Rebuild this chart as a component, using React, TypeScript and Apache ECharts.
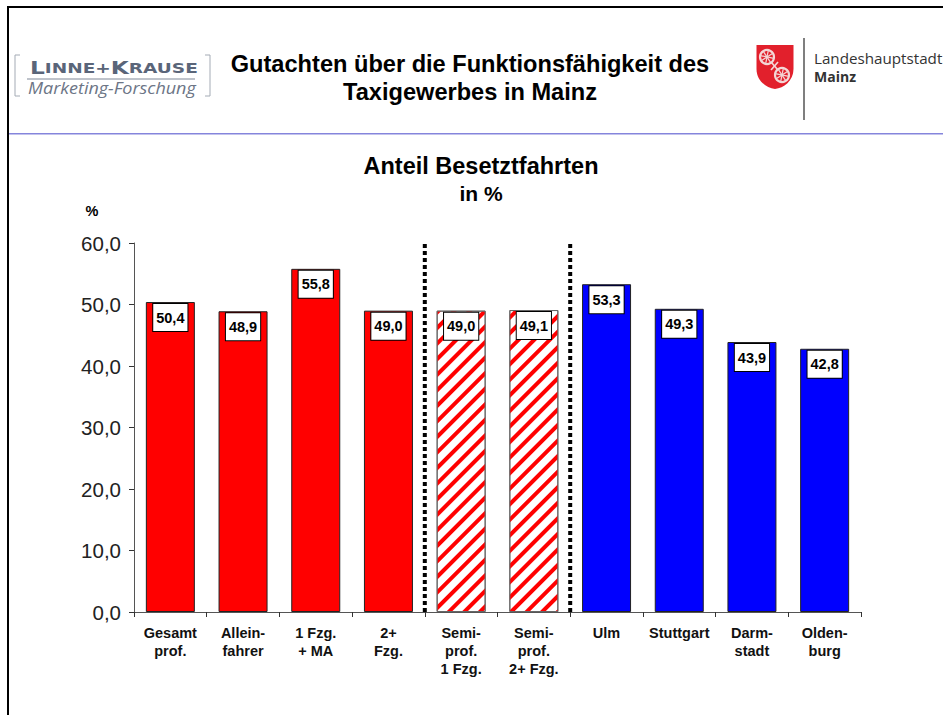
import React, { useEffect, useRef } from "react";
import * as echarts from "echarts";

const categories = ["Gesamt\nprof.", "Allein-\nfahrer", "1 Fzg.\n+ MA", "2+\nFzg.", "Semi-\nprof.\n1 Fzg.", "Semi-\nprof.\n2+ Fzg.", "Ulm", "Stuttgart", "Darm-\nstadt", "Olden-\nburg"];
const values = [50.4, 48.9, 55.8, 49.0, 49.0, 49.1, 53.3, 49.3, 43.9, 42.8];
const groups = ["solid", "solid", "solid", "solid", "hatch", "hatch", "blue", "blue", "blue", "blue"];
const separators = [4, 6];
const yMin = 0;
const yMax = 60;

const FONT = "'Liberation Sans', Arial, sans-serif";
const fmt = (v: number) => v.toFixed(1).replace(".", ",");

const shieldPath = "M0 0 L37 0 L37 24 C37 36 27 43 18.5 44 C10 43 0 36 0 24 Z";
echarts.graphic.registerShape("mainzShield", echarts.graphic.extendPath(shieldPath, {}) as any);

function itemStyleFor(group: string) {
  if (group === "hatch") {
    return {
      color: "#ffffff",
      borderColor: "#666666",
      borderWidth: 1,
      decal: {
        symbol: "rect",
        color: "#ff0000",
        backgroundColor: "#ffffff",
        dashArrayX: [1, 0],
        dashArrayY: [4, 7],
        rotation: -Math.PI / 4,
      },
    };
  }
  return { color: group === "blue" ? "#0000ff" : "#ff0000", borderColor: "#222222", borderWidth: 1 };
}

const WHEEL = "#f3d6d6";
function wheel(cx: number, cy: number, r: number) {
  const spokes = [0, 1, 2, 3].map((i) => {
    const a = (i * Math.PI) / 4 + 0.2;
    return {
      type: "line",
      shape: { x1: cx - r * Math.cos(a), y1: cy - r * Math.sin(a), x2: cx + r * Math.cos(a), y2: cy + r * Math.sin(a) },
      style: { stroke: WHEEL, lineWidth: 1.2 },
    };
  });
  return [
    { type: "circle", shape: { cx, cy, r }, style: { fill: "none", stroke: WHEEL, lineWidth: 2.2 } },
    ...spokes,
  ];
}

function buildGraphics() {
  return [
    { type: "line", shape: { x1: 7, y1: 7, x2: 943, y2: 7 }, style: { stroke: "#000", lineWidth: 2 } },
    { type: "line", shape: { x1: 8, y1: 6, x2: 8, y2: 715 }, style: { stroke: "#000", lineWidth: 2 } },
    { type: "rect", shape: { x: 9, y: 133, width: 934, height: 1.5 }, style: { fill: "#8585dc" } },
    { type: "polyline", shape: { points: [[20, 55], [15, 55], [15, 96], [20, 96]] }, style: { fill: "none", stroke: "#a4abb5", lineWidth: 1 } },
    { type: "polyline", shape: { points: [[205, 55], [210, 55], [210, 96], [205, 96]] }, style: { fill: "none", stroke: "#a4abb5", lineWidth: 1 } },
    {
      type: "text", x: 30, y: 68, scaleX: 1.37,
      style: {
        text: "{a|L}{b|INNE+}{a|K}{b|RAUSE}",
        verticalAlign: "middle",
        rich: {
          a: { font: "bold 17px 'DejaVu Sans'", fill: "#5a6579" },
          b: { font: "bold 13.5px 'DejaVu Sans'", fill: "#5a6579" },
        },
      },
    },
    { type: "line", shape: { x1: 27, y1: 79, x2: 195, y2: 79 }, style: { stroke: "#7e8797", lineWidth: 1 } },
    { type: "text", x: 28, y: 88, scaleX: 1.16, style: { text: "Marketing-Forschung", font: "italic 15.5px 'Open Sans'", fill: "#6c7586", verticalAlign: "middle" } },
    { type: "text", x: 470, y: 64, style: { text: "Gutachten über die Funktionsfähigkeit des", font: `bold 23.6px ${FONT}`, fill: "#000", align: "center", verticalAlign: "middle" } },
    { type: "text", x: 470, y: 92, style: { text: "Taxigewerbes in Mainz", font: `bold 23.6px ${FONT}`, fill: "#000", align: "center", verticalAlign: "middle" } },
    { type: "mainzShield", x: 756.5, y: 45, style: { fill: "#e2202c" } },
    ...wheel(767, 57, 7),
    ...wheel(782, 75, 7),
    { type: "line", shape: { x1: 771, y1: 62, x2: 778, y2: 70 }, style: { stroke: WHEEL, lineWidth: 1.6 } },
    { type: "line", shape: { x1: 778, y1: 62, x2: 771, y2: 70 }, style: { stroke: WHEEL, lineWidth: 1.6 } },
    { type: "line", shape: { x1: 804, y1: 38, x2: 804, y2: 120 }, style: { stroke: "#555", lineWidth: 1.5 } },
    { type: "text", x: 814, y: 58, style: { text: "Landeshauptstadt", font: "15.2px 'Open Sans'", fill: "#333", verticalAlign: "middle" } },
    { type: "text", x: 814, y: 76, style: { text: "Mainz", font: "bold 14px 'Open Sans'", fill: "#333", verticalAlign: "middle" } },
    { type: "text", x: 481, y: 166, style: { text: "Anteil Besetztfahrten", font: `bold 23.5px ${FONT}`, fill: "#000", align: "center", verticalAlign: "middle" } },
    { type: "text", x: 481, y: 193, style: { text: "in %", font: `bold 21px ${FONT}`, fill: "#000", align: "center", verticalAlign: "middle" } },
    { type: "text", x: 92, y: 211, style: { text: "%", font: `bold 14.5px ${FONT}`, fill: "#000", align: "center", verticalAlign: "middle" } },
  ];
}

export default function App() {
  const ref = useRef<HTMLDivElement>(null);
  useEffect(() => {
    document.body.style.margin = "0";
    const chart = echarts.init(ref.current!, null, { renderer: "svg" });
    chart.setOption({
      animation: false,
      backgroundColor: "#ffffff",
      grid: { left: 134, right: 82, top: 243, bottom: 103 },
      graphic: buildGraphics(),
      xAxis: [
        {
          type: "category",
          data: categories,
          axisLine: { lineStyle: { color: "#555", width: 1 } },
          axisTick: { show: true, length: 5, alignWithLabel: false, lineStyle: { color: "#333" } },
          axisLabel: { interval: 0, margin: 12, color: "#111", fontFamily: FONT, fontWeight: "bold", fontSize: 14.5, lineHeight: 18, verticalAlign: "top" },
        },
        { type: "value", min: 0, max: categories.length, show: false },
      ],
      yAxis: {
        type: "value",
        min: yMin,
        max: yMax,
        interval: 10,
        axisLine: { show: true, lineStyle: { color: "#555", width: 1 } },
        axisTick: { show: true, length: 5, lineStyle: { color: "#333" } },
        splitLine: { show: false },
        axisLabel: { margin: 13, color: "#222", fontFamily: FONT, fontSize: 20.5, padding: [0, 0, 2, 0], formatter: (v: number) => fmt(v) },
      },
      series: [
        {
          type: "bar",
          barWidth: 49,
          data: values.map((v, i) => ({ value: v, itemStyle: itemStyleFor(groups[i]) })),
          label: {
            show: true,
            position: "insideTop",
            distance: 2,
            formatter: (p: any) => fmt(p.value),
            color: "#000",
            fontFamily: FONT,
            fontWeight: "bold",
            fontSize: 14.5,
            backgroundColor: "#ffffff",
            borderColor: "#000",
            borderWidth: 1,
            padding: [6, 3, 6, 3],
          },
        },
        ...separators.map((s) => ({
          type: "line",
          xAxisIndex: 1,
          symbol: "none",
          silent: true,
          data: [[s, yMin], [s, yMax]],
          lineStyle: { color: "#000", width: 4, type: [4, 3] },
        })),
      ],
    });
    return () => chart.dispose();
  }, []);
  return <div ref={ref} style={{ width: 943, height: 715 }} />;
}
